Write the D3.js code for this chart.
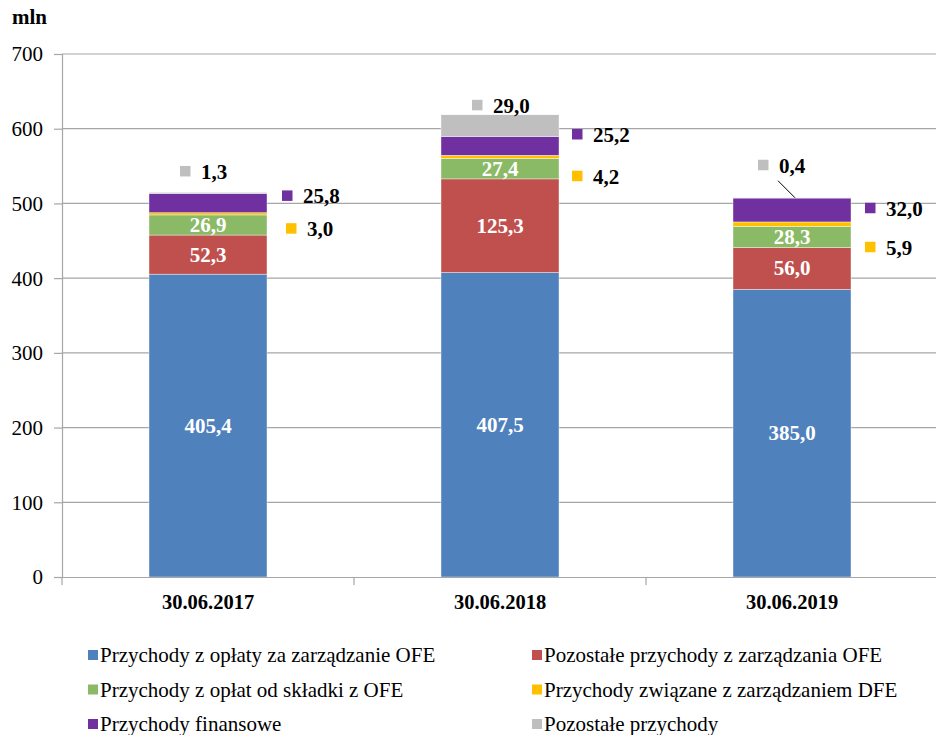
<!DOCTYPE html>
<html><head><meta charset="utf-8">
<script src="https://cdn.jsdelivr.net/npm/d3@7"></script>
<style>body{margin:0;background:#fff}svg{display:block}svg text{font-family:"Liberation Serif","Times New Roman",Tinos,Times,serif !important}</style>
</head><body><svg id="c" width="936" height="735" font-family="Liberation Serif, Times New Roman, serif"></svg>
<script>
const categories = ["30.06.2017", "30.06.2018", "30.06.2019"];
const seriesNames = ["Przychody z opłaty za zarządzanie OFE","Pozostałe przychody z zarządzania OFE","Przychody z opłat od składki z OFE","Przychody związane z zarządzaniem DFE","Przychody finansowe","Pozostałe przychody"];
const oplataZarzadzanie = [405.4, 407.5, 385.0];
const pozostaleZarzadzania = [52.3, 125.3, 56.0];
const oplatySkladki = [26.9, 27.4, 28.3];
const dfe = [3.0, 4.2, 5.9];
const finansowe = [25.8, 25.2, 32.0];
const pozostale = [1.3, 29.0, 0.4];
const yTicks = [0, 100, 200, 300, 400, 500, 600, 700];
const colors = ["#4F81BD","#C0504D","#8BBA66","#FFC000","#7030A0","#BFBFBF"];

const series = [oplataZarzadzanie, pozostaleZarzadzania, oplatySkladki, dfe, finansowe, pozostale];
const rows = categories.map((c,i)=>{const o={cat:c}; series.forEach((s,k)=>o["s"+k]=s[i]); return o;});
const keys = series.map((_,k)=>"s"+k);
const stacked = d3.stack().keys(keys)(rows);

const svg = d3.select("#c");
const x = d3.scaleBand().domain(categories).range([62, 938]).paddingInner(0).paddingOuter(0);
const y = d3.scaleLinear().domain([0,700]).range([577, 54]);
const barW = 118;

// gridlines
svg.append("g").selectAll("line").data(yTicks.filter(v=>v>0)).join("line")
  .attr("x1",62).attr("x2",936).attr("y1",d=>y(d)).attr("y2",d=>y(d))
  .attr("stroke","#a6a6a6").attr("stroke-width",1.2);

// y axis
const ya = svg.append("g").attr("transform","translate(62,0)").call(d3.axisLeft(y).tickValues(yTicks).tickSize(8).tickFormat(d3.format("d")));
ya.attr("font-family",null).attr("font-size",null);
ya.select(".domain").attr("stroke","#a6a6a6").attr("stroke-width",1.2);
ya.selectAll(".tick line").attr("stroke","#a6a6a6").attr("stroke-width",1.2);
ya.selectAll(".tick text").attr("x",-19).attr("dy","0.33em").attr("font-size","21px").attr("fill","#000");

// bars
svg.append("g").selectAll("g").data(stacked).join("g").attr("fill",(d,i)=>colors[i])
  .selectAll("rect").data(d=>d).join("rect")
  .attr("x",d=>x(d.data.cat)+(x.bandwidth()-barW)/2).attr("width",barW)
  .attr("y",d=>y(d[1])).attr("height",d=>Math.max(0,y(d[0])-y(d[1])))
  .attr("stroke","#ffffff").attr("stroke-width",0.4);

// x axis
const xa = svg.append("g").attr("transform","translate(0,577)").call(d3.axisBottom(x).tickSize(0).tickFormat(""));
xa.select(".domain").attr("stroke","#a6a6a6").attr("stroke-width",1.2);
svg.append("g").selectAll("line").data(categories.concat(["end"])).join("line")
  .attr("x1",(d,i)=>62+i*x.bandwidth()).attr("x2",(d,i)=>62+i*x.bandwidth())
  .attr("y1",577).attr("y2",585).attr("stroke","#a6a6a6").attr("stroke-width",1.2);
svg.append("g").selectAll("text").data(categories).join("text")
  .attr("x",d=>x(d)+x.bandwidth()/2).attr("y",609).attr("text-anchor","middle")
  .attr("font-size","20.5px").attr("font-weight","bold").text(d=>d);

const fmt = v => d3.format(".1f")(v).replace(".", ",");

// inside labels (first three series)
[0,1,2].forEach(k=>{
  svg.append("g").selectAll("text").data(stacked[k]).join("text")
    .attr("x",d=>x(d.data.cat)+x.bandwidth()/2)
    .attr("y",d=>(y(d[0])+y(d[1]))/2+7)
    .attr("text-anchor","middle").attr("fill","#fff").attr("font-weight","bold").attr("font-size","21px")
    .text(d=>fmt(d[1]-d[0]));
});

// outside labels: [dx of marker from bar center, dy of marker centre from segment top] per category
const outsideOffsets = {
  5: [[-28,-21.5],[-28,-10],[-34,-33]],
  4: [[74,2],[72,-2.5],[73,9.7]],
  3: [[78,15.5],[72,20.4],[73,24.8]]
};
const labelPos = {};
Object.keys(outsideOffsets).forEach(kk=>{
  const k=+kk;
  stacked[k].forEach((d,i)=>{
    const [dx,dy]=outsideOffsets[k][i];
    const cx = x(d.data.cat)+x.bandwidth()/2+dx;
    const cy = y(d[1])+dy;
    labelPos[k+"_"+i]=[cx,cy];
    const g = svg.append("g");
    g.append("rect").attr("x",cx).attr("y",cy-5).attr("width",10.5).attr("height",10.5).attr("fill",colors[k]);
    g.append("text").attr("x",cx+21).attr("y",cy+8).attr("font-size","21px").attr("font-weight","bold").attr("fill","#000").text(fmt(d[1]-d[0]));
  });
});
// leader line for 2019 small value
{
  const d = stacked[5][2];
  const cx = x(d.data.cat)+x.bandwidth()/2;
  const lp = labelPos["5_2"];
  svg.append("line").attr("x1",lp[0]+20).attr("y1",lp[1]+16).attr("x2",cx+3).attr("y2",y(d[1])).attr("stroke","#000").attr("stroke-width",1);
}

// mln
svg.append("text").attr("x",12).attr("y",24).attr("font-size","21px").attr("font-weight","bold").text("mln");

// legend
const leg = svg.append("g");
seriesNames.forEach((n,i)=>{
  const col=i%2, row=Math.floor(i/2);
  const lx = col===0?88:532, ly = 655+row*34.5;
  leg.append("rect").attr("x",lx).attr("y",ly-5).attr("width",10).attr("height",10).attr("fill",colors[i]);
  leg.append("text").attr("x",lx+12).attr("y",ly+7).attr("font-size","21px").text(n);
});
</script></body></html>
